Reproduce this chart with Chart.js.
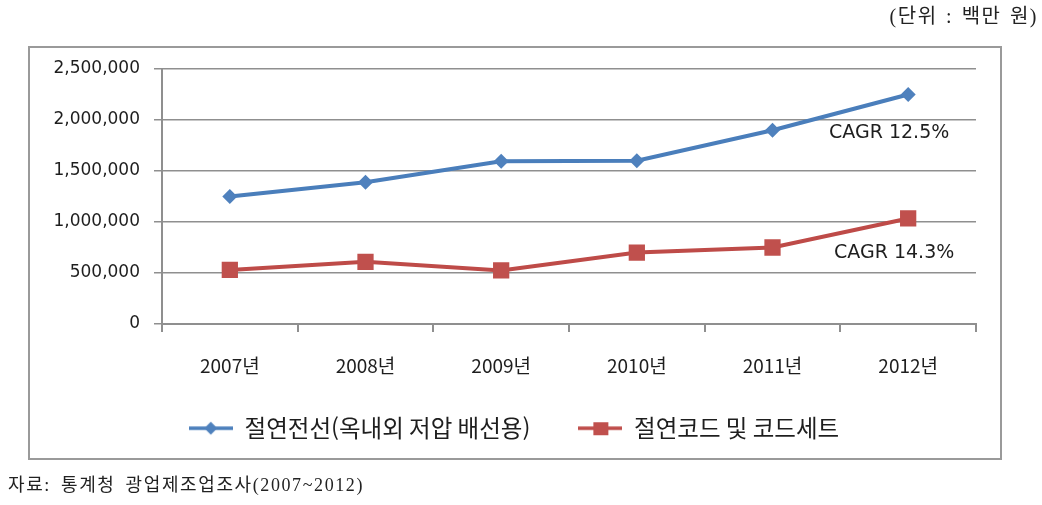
<!DOCTYPE html>
<html lang="ko">
<head>
<meta charset="utf-8">
<script src="https://cdn.jsdelivr.net/npm/chart.js@4.4.1/dist/chart.umd.min.js"></script>
<style>
  html, body { margin: 0; padding: 0; background: #ffffff; }
  #wrap { position: relative; width: 1042px; height: 505px; overflow: hidden; }
  #c { position: absolute; left: 0; top: 0; }
  .note { position: absolute; font-family: 'Liberation Serif', 'Noto Sans CJK KR', serif; color: #222; white-space: nowrap; }
  #unit { right: 4px; top: 4px; font-size: 20px; line-height: 24px; letter-spacing: 1.5px; word-spacing: 2px; }
  #src { left: 8px; top: 474px; font-size: 18px; line-height: 22px; letter-spacing: 1.6px; word-spacing: 4px; }
</style>
</head>
<body>
<div id="wrap">
  <canvas id="c" width="1042" height="505"></canvas>
  <div class="note" id="unit">(단위 : 백만 원)</div>
  <div class="note" id="src">자료: 통계청 광업제조업조사(2007~2012)</div>
</div>
<script>
// ---- data ----
const categories = ['2007년', '2008년', '2009년', '2010년', '2011년', '2012년'];
const seriesNames = ['절연전선(옥내외 저압 배선용)', '절연코드 및 코드세트'];
const wireValues = [1250000, 1390000, 1595000, 1600000, 1900000, 2250000];
const cordValues = [530000, 610000, 525000, 700000, 750000, 1035000];
const yTickValues = [0, 500000, 1000000, 1500000, 2000000, 2500000];
const cagrLabels = ['CAGR 12.5%', 'CAGR 14.3%'];

const BLUE_LINE = '#4A7EBB', BLUE_MARK = '#4F81BD';
const RED_LINE = '#BE4B48', RED_MARK = '#C0504D';
const GRID = '#8f8f8f';
const TEXT = '#1e1e1e';

// legend icons (line with marker)
function makeIcon(lineColor, markColor, shape) {
  const cv = document.createElement('canvas');
  cv.width = 44; cv.height = 16;
  const g = cv.getContext('2d');
  g.strokeStyle = lineColor; g.lineWidth = 3.5;
  g.beginPath(); g.moveTo(0, 8); g.lineTo(44, 8); g.stroke();
  g.fillStyle = markColor;
  if (shape === 'diamond') {
    g.beginPath(); g.moveTo(22, 1.5); g.lineTo(28.5, 8); g.lineTo(22, 14.5); g.lineTo(15.5, 8); g.closePath(); g.fill();
  } else {
    g.fillRect(15, 2, 15, 13);
  }
  return cv;
}
const icons = [makeIcon(BLUE_LINE, BLUE_MARK, 'diamond'), makeIcon(RED_LINE, RED_MARK, 'square')];

const framePlugin = {
  id: 'frame',
  afterLayout(chart) {
    const lg = chart.legend;
    if (lg) { lg.left += 12; lg.right += 12; }
    // let the category labels extend below the axis box (no clipping)
    if (chart.scales.x) { chart.scales.x.bottom += 25; }
  },
  beforeDraw(chart) {
    const ctx = chart.ctx;
    ctx.save();
    ctx.strokeStyle = '#9a9a9a';
    ctx.lineWidth = 2;
    ctx.strokeRect(29, 47, 972, 412);
    ctx.restore();
  },
  afterDatasetsDraw(chart) {
    const ctx = chart.ctx;
    const xs = chart.scales.x, ys = chart.scales.y;
    const last = categories.length - 1;
    const px = xs.getPixelForValue(last);
    const spots = [
      { dx: -19, value: 1875000 },
      { dx: -14, value: 696000 }
    ];
    ctx.save();
    ctx.font = "19px 'DejaVu Sans', sans-serif";
    ctx.fillStyle = TEXT;
    ctx.textAlign = 'center';
    ctx.textBaseline = 'middle';
    cagrLabels.forEach((t, i) => {
      ctx.fillText(t, px + spots[i].dx, ys.getPixelForValue(spots[i].value));
    });
    ctx.restore();
  }
};

new Chart(document.getElementById('c'), {
  type: 'line',
  data: {
    labels: categories,
    datasets: [
      {
        label: seriesNames[0], data: wireValues,
        borderColor: BLUE_LINE, backgroundColor: BLUE_MARK, borderWidth: 4,
        pointStyle: 'rectRot', pointRadius: 7.5, pointBorderWidth: 0,
        pointBackgroundColor: BLUE_MARK, tension: 0
      },
      {
        label: seriesNames[1], data: cordValues,
        borderColor: RED_LINE, backgroundColor: RED_MARK, borderWidth: 4,
        pointStyle: 'rect', pointRadius: 11.5, pointBorderWidth: 0,
        pointBackgroundColor: RED_MARK, tension: 0
      }
    ]
  },
  options: {
    responsive: false,
    devicePixelRatio: 1,
    animation: false,
    layout: { padding: { left: 28, right: 66, top: 69, bottom: 55 } },
    plugins: {
      tooltip: { enabled: false },
      legend: {
        position: 'bottom',
        labels: {
          usePointStyle: true,
          pointStyleWidth: 44,
          padding: 48,
          color: TEXT,
          font: { family: "'Noto Sans CJK KR', sans-serif", size: 23.5 },
          generateLabels(chart) {
            const items = Chart.defaults.plugins.legend.labels.generateLabels(chart);
            items.forEach((it, i) => { it.pointStyle = icons[i]; });
            return items;
          }
        }
      }
    },
    scales: {
      x: {
        offset: true,
        grid: { display: true, drawOnChartArea: false, drawTicks: true, tickLength: 8, color: GRID, lineWidth: 2, offset: true },
        border: { display: true, color: GRID, width: 2 },
        ticks: { color: TEXT, padding: 22, font: { family: "'Noto Sans CJK KR', sans-serif", size: 19 }, maxRotation: 0 },
        afterFit(scale) { scale.height = 44.5; }
      },
      y: {
        min: 0, max: 2500000,
        afterBuildTicks(scale) { scale.ticks = yTickValues.map(v => ({ value: v })); },
        grid: { color: GRID, lineWidth: 1.5, drawTicks: true, tickLength: 8 },
        border: { display: true, color: GRID, width: 2 },
        ticks: {
          color: TEXT, padding: 14,
          font: { family: "'DejaVu Sans', sans-serif", size: 17 },
          callback: v => Number(v).toLocaleString('en-US')
        },
        afterFit(scale) { scale.width = 134; }
      }
    }
  },
  plugins: [framePlugin]
});
</script>
</body>
</html>
